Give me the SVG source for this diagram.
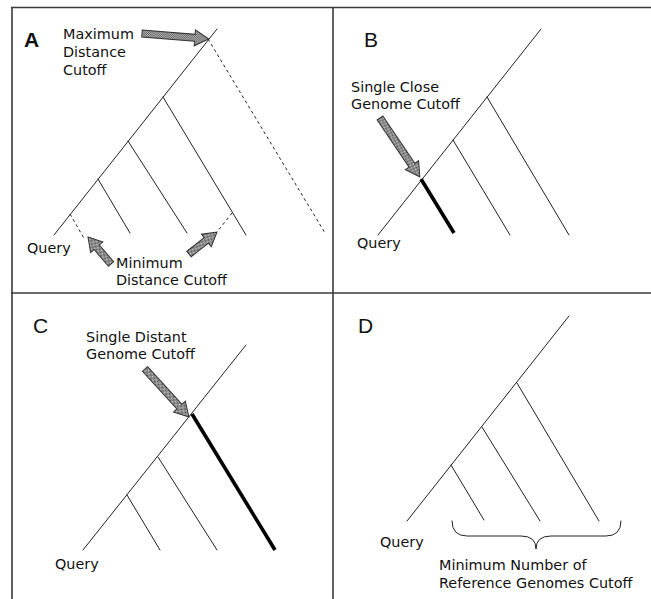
<svg xmlns="http://www.w3.org/2000/svg" width="651" height="599" viewBox="0 0 651 599">
  <style>
    .frame { stroke: #3a3a3a; stroke-width: 1.6; fill: none; }
    .edge { stroke: #222; stroke-width: 1; fill: none; stroke-linecap: round; }
    .thick { stroke: #000; stroke-width: 3.6; fill: none; }
    .dash { stroke: #222; stroke-width: 1; fill: none; stroke-dasharray: 3 3; }
    .lbl { font-family: "DejaVu Sans", Verdana, sans-serif; font-size: 14.4px; fill: #111; }
    .panel { font-family: "Liberation Sans", Arial, sans-serif; font-size: 21px; fill: #111; }
    .callout { fill: url(#dither); stroke: #333; stroke-width: 1; stroke-linejoin: miter; }
  </style>
  <defs>
    <!-- fine checker fill used by the block arrows -->
    <pattern id="dither" width="2" height="2" patternUnits="userSpaceOnUse">
      <rect width="2" height="2" fill="#c4c4c4"/>
      <rect width="1" height="1" fill="#555"/>
      <rect x="1" y="1" width="1" height="1" fill="#555"/>
    </pattern>
  </defs>

  <rect width="651" height="599" fill="#fff"/>

  <!-- panel frame -->
  <g id="frame">
    <line class="frame" x1="11" y1="7.5" x2="651" y2="7.5"/>
    <line class="frame" x1="12" y1="7" x2="12" y2="599"/>
    <line class="frame" x1="333" y1="7" x2="333" y2="599"/>
    <line class="frame" x1="11" y1="293" x2="651" y2="293"/>
  </g>

  <!-- Panel A -->
  <g id="panel-a">
    <text class="panel" x="24" y="47" font-weight="bold">A</text>
    <g id="a-tree">
      <line class="edge" x1="54" y1="235" x2="217" y2="29"/>
      <line class="dash" x1="70" y1="214" x2="85" y2="240"/>
      <line class="edge" x1="98" y1="179" x2="130" y2="233"/>
      <line class="edge" x1="128" y1="141" x2="187" y2="233"/>
      <line class="edge" x1="163" y1="97" x2="246" y2="235"/>
      <line class="dash" x1="232" y1="213" x2="217" y2="232"/>
      <line class="dash" x1="208" y1="39" x2="325" y2="233"/>
    </g>
    <g id="a-max-arrow">
      <polygon class="callout" transform="translate(142,33.5) rotate(4.7)" points="0,-3.5 53,-3.5 53,-8 67,0 53,8 53,3.5 0,3.5"/>
    </g>
    <g id="a-min-arrows">
      <polygon class="callout" transform="translate(111,264) rotate(-130.4)" points="0,-3.5 22,-3.5 22,-8 35.5,0 22,8 22,3.5 0,3.5"/>
      <polygon class="callout" transform="translate(189,254) rotate(-38)" points="0,-3.5 22,-3.5 22,-8 35.5,0 22,8 22,3.5 0,3.5"/>
    </g>
    <text class="lbl" x="63" y="39">Maximum</text>
    <text class="lbl" x="63" y="57">Distance</text>
    <text class="lbl" x="63" y="75">Cutoff</text>
    <text class="lbl" x="27" y="253">Query</text>
    <text class="lbl" x="116" y="268">Minimum</text>
    <text class="lbl" x="116" y="285">Distance Cutoff</text>
  </g>

  <!-- Panel B -->
  <g id="panel-b">
    <text class="panel" x="364" y="47">B</text>
    <g id="b-tree">
      <line class="edge" x1="378" y1="235" x2="541" y2="29"/>
      <line class="thick" x1="421" y1="179" x2="454" y2="233"/>
      <line class="edge" x1="453" y1="140" x2="510" y2="235"/>
      <line class="edge" x1="487" y1="97" x2="569" y2="235"/>
    </g>
    <g id="b-arrow">
      <polygon class="callout" transform="translate(380,118) rotate(55.9)" points="0,-3.5 57,-3.5 57,-8 71,0 57,8 57,3.5 0,3.5"/>
    </g>
    <text class="lbl" x="351" y="92">Single Close</text>
    <text class="lbl" x="351" y="109">Genome Cutoff</text>
    <text class="lbl" x="357" y="248">Query</text>
  </g>

  <!-- Panel C -->
  <g id="panel-c">
    <text class="panel" x="33" y="333">C</text>
    <g id="c-tree">
      <line class="edge" x1="83" y1="550" x2="246" y2="345"/>
      <line class="edge" x1="127" y1="495" x2="160" y2="550"/>
      <line class="edge" x1="158" y1="457" x2="217" y2="550"/>
      <line class="thick" x1="192" y1="414" x2="275" y2="550"/>
    </g>
    <g id="c-arrow">
      <polygon class="callout" transform="translate(145,369) rotate(47.5)" points="0,-3.5 51,-3.5 51,-8 65,0 51,8 51,3.5 0,3.5"/>
    </g>
    <text class="lbl" x="86" y="342">Single Distant</text>
    <text class="lbl" x="86" y="359">Genome Cutoff</text>
    <text class="lbl" x="55" y="569">Query</text>
  </g>

  <!-- Panel D -->
  <g id="panel-d">
    <text class="panel" x="358" y="333">D</text>
    <g id="d-tree">
      <line class="edge" x1="407" y1="521" x2="569" y2="316"/>
      <line class="edge" x1="451" y1="465" x2="484" y2="520"/>
      <line class="edge" x1="482" y1="427" x2="540" y2="521"/>
      <line class="edge" x1="517" y1="383" x2="599" y2="521"/>
    </g>
    <g id="d-brace">
      <path class="edge" d="M452,521 Q452,536 467,536 L521,536 Q536,536 536,549 Q536,536 551,536 L606,536 Q621,536 621,521"/>
    </g>
    <text class="lbl" x="380" y="547">Query</text>
    <text class="lbl" x="439" y="570">Minimum Number of</text>
    <text class="lbl" x="439" y="588">Reference Genomes Cutoff</text>
  </g>
</svg>
